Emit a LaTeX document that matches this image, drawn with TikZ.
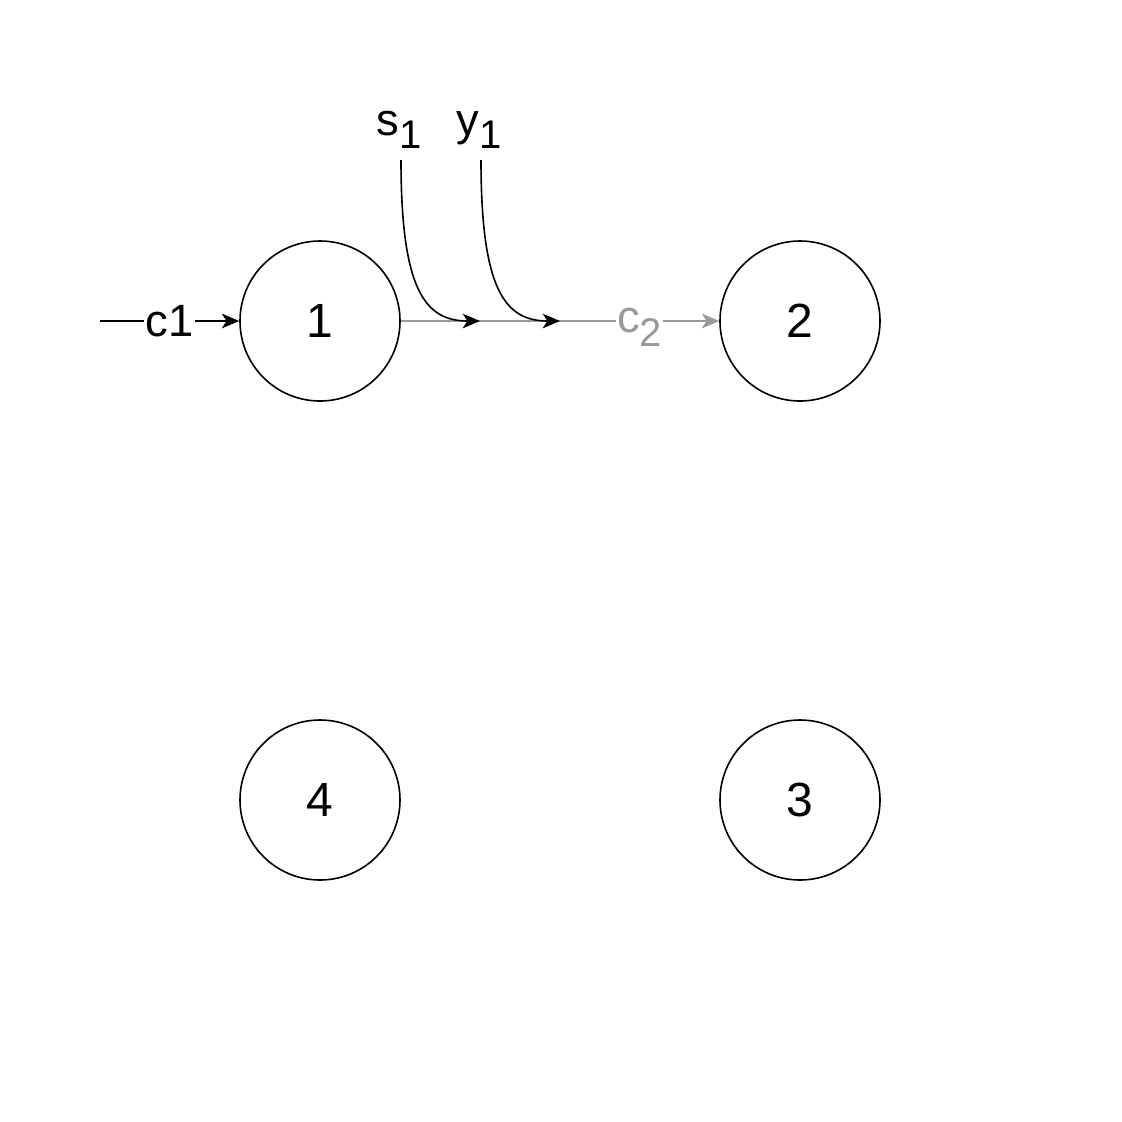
\documentclass[tikz,border=0pt]{standalone}
\usepackage{fontspec}
\setmainfont{Liberation Sans}
\usetikzlibrary{arrows.meta,positioning}

\newcommand{\lowsub}[1]{\raisebox{-0.3em}[0pt][0pt]{\fontsize{30}{30}\selectfont #1}}

\begin{document}
\begin{tikzpicture}[x=0.75pt, y=-0.75pt,
state/.style={draw, circle, line width=1.2pt, minimum size=120pt, inner sep=0pt, font=\fontsize{36}{42}\selectfont},
lbl/.style={fill=white, inner sep=1pt, font=\fontsize{34}{40}\selectfont},
line/.style={-{Stealth[length=13pt,width=11pt,inset=3.5pt]}, line width=1.2pt},
gline/.style={line, draw=gray!80}
]
\useasboundingbox (0,0) rectangle (1122,1122);
\node[state] (n1) at (320,321) {1};
\node[state] (n2) at (800,321) {2};
\node[state] (n3) at (800,800) {3};
\node[state] (n4) at (320,800) {4};
\coordinate (in) at (100,321);
\coordinate (j1) at (480,321);
\coordinate (j2) at (560,321);
\coordinate (s1end) at (401,160);
\coordinate (y1end) at (481,160);
\node[lbl, anchor=base] (s1) at (399,135) {s\lowsub{1}};
\node[lbl, anchor=base] (y1) at (479,135) {y\lowsub{1}};
\draw[line] (in) -- node[lbl] (c1) {c1} (n1);
\draw[gline] (n1) -- node[lbl, pos=0.75, text=gray!80] (c2) {c\lowsub{2}} (n2);
\draw[line] (s1end) .. controls (401,290) and (425,321) .. (j1);
\draw[line] (y1end) .. controls (481,290) and (505,321) .. (j2);
\end{tikzpicture}
\end{document}
